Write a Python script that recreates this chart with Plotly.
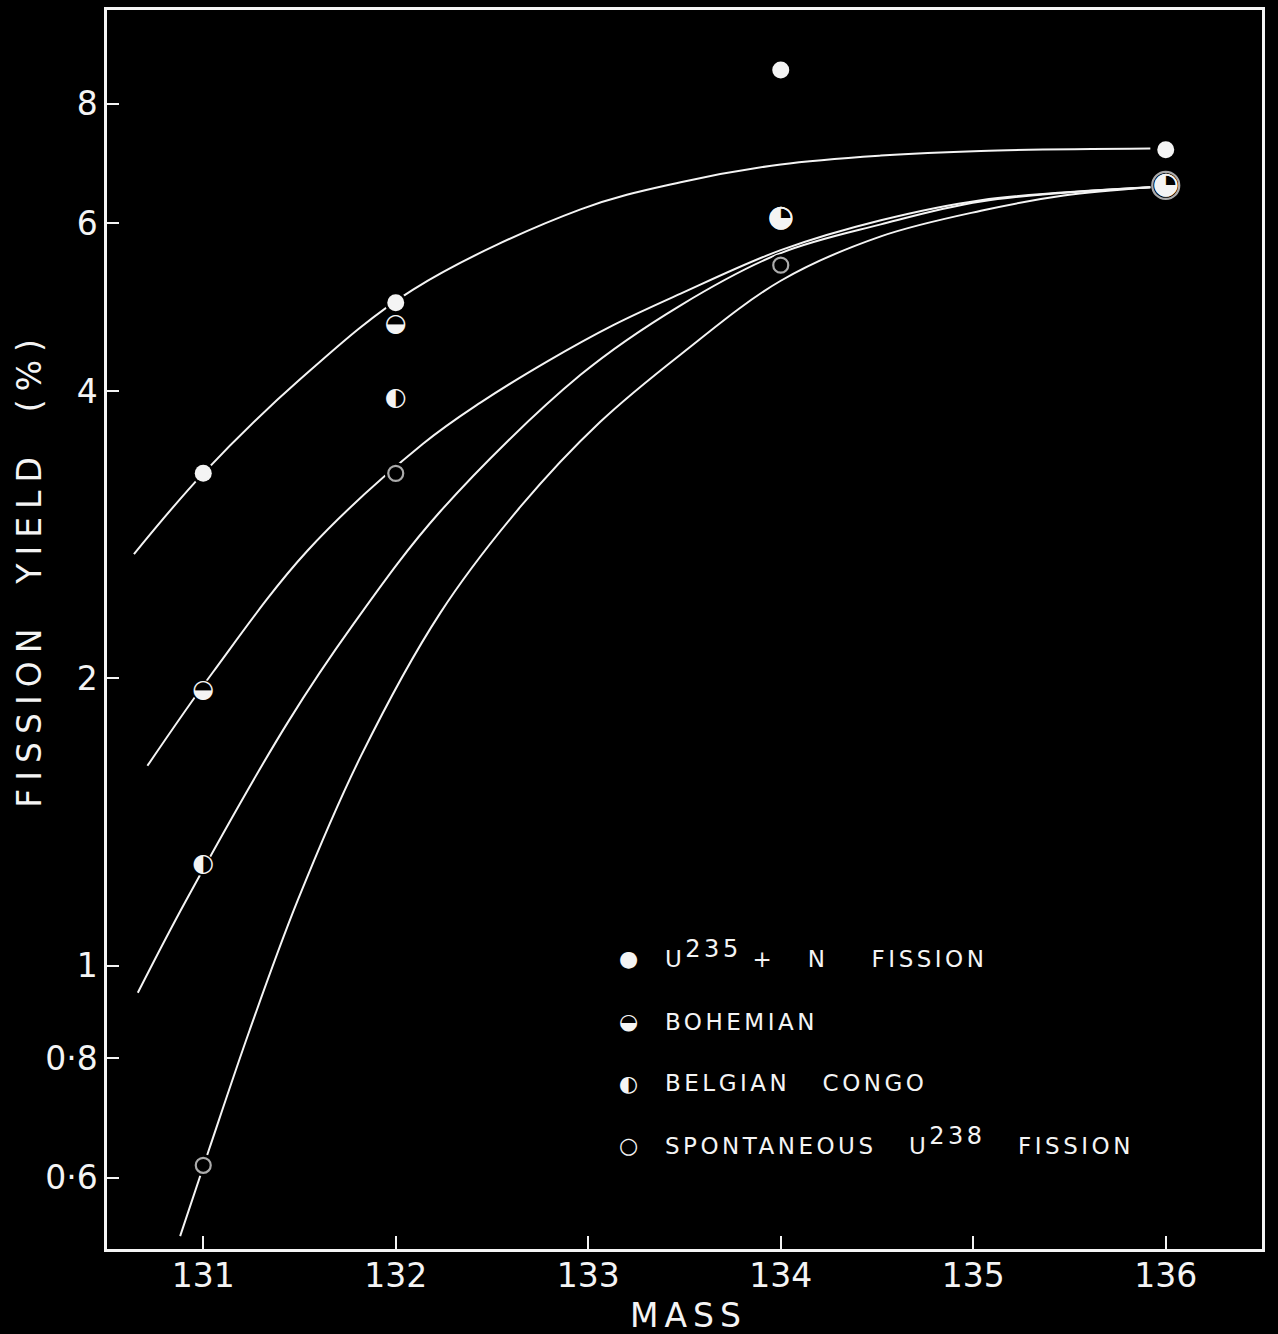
import plotly.graph_objects as go

# ---- data ----
mass = [131, 132, 134, 136]
yield_u235 = [3.28, 4.95, 8.68, 7.16]
yield_bohemian = [1.94, 4.69, 6.07, 6.57]
yield_congo = [1.275, 3.93, 6.07, 6.57]
yield_spont = [0.618, 3.28, 5.42, 6.57]

curve_u235_x = [130.64, 131.00, 131.50, 132.09, 132.96, 133.48, 134.00, 134.52, 135.04, 135.92]
curve_u235_y = [2.70, 3.28, 4.11, 5.11, 6.20, 6.62, 6.91, 7.06, 7.14, 7.18]

curve_bohemian_x = [130.71, 131.05, 131.54, 132.14, 132.44, 132.79, 133.13, 133.48, 134.00, 134.52, 135.04, 135.92]
curve_bohemian_y = [1.62, 2.03, 2.72, 3.52, 3.89, 4.30, 4.69, 5.06, 5.62, 6.04, 6.34, 6.54]

curve_congo_x = [130.66, 130.91, 131.44, 131.78, 132.23, 132.96, 133.48, 134.00, 134.52, 135.04, 135.92]
curve_congo_y = [0.937, 1.17, 1.80, 2.28, 2.99, 4.16, 4.92, 5.58, 5.98, 6.32, 6.54]

curve_spont_x = [130.88, 131.03, 131.24, 131.49, 131.82, 132.23, 132.65, 133.06, 133.48, 134.00, 134.52, 135.04, 135.47, 135.92]
curve_spont_y = [0.521, 0.642, 0.855, 1.17, 1.66, 2.34, 3.03, 3.71, 4.37, 5.22, 5.81, 6.18, 6.41, 6.54]

x_ticks = [131, 132, 133, 134, 135, 136]
y_ticks = [0.6, 0.8, 1, 2, 4, 6, 8]
y_ticktext = ["0·6", "0·8", "1", "2", "4", "6", "8"]

NB = "\u00a0"
SUP = '<sup><span style="font-size:24px">{}</span></sup>'
legend_labels = [
    "U" + SUP.format("235") + NB + "+" + NB * 3 + "N" + NB * 4 + "FISSION",
    "BOHEMIAN",
    "BELGIAN" + NB * 3 + "CONGO",
    "SPONTANEOUS" + NB * 3 + "U" + SUP.format("238") + NB * 3 + "FISSION",
]
legend_glyphs = ["●", "◒", "◐", "○"]

WHITE = "#f4f4f4"
FONT = "DejaVu Sans"

fig = go.Figure()

# smooth curves
for cx, cy in [(curve_u235_x, curve_u235_y), (curve_bohemian_x, curve_bohemian_y),
               (curve_congo_x, curve_congo_y), (curve_spont_x, curve_spont_y)]:
    fig.add_trace(go.Scatter(x=cx, y=cy, mode="lines",
                             line=dict(color=WHITE, width=2, shape="spline", smoothing=1.0),
                             hoverinfo="skip", showlegend=False))

# black masks under markers (gaps in lines)
for ys in [yield_u235, yield_bohemian, yield_congo, yield_spont]:
    fig.add_trace(go.Scatter(x=mass, y=ys, mode="markers",
                             marker=dict(symbol="circle", size=22, color="black"),
                             hoverinfo="skip", showlegend=False))

# spontaneous: open rings (larger where coinciding with other series)
others = list(zip(mass, yield_bohemian)) + list(zip(mass, yield_congo))
spont_sizes = [27 if (m, v) in others else 15 for m, v in zip(mass, yield_spont)]
fig.add_trace(go.Scatter(x=mass, y=yield_spont, mode="markers", name="Spontaneous U238 fission",
                         marker=dict(symbol="circle", size=spont_sizes, color="black",
                                     line=dict(width=2.2, color=WHITE)),
                         showlegend=False))

# half-filled circles as glyphs (bigger where the two coincide)
glyph_sizes = [30 if b == c else 25 for b, c in zip(yield_bohemian, yield_congo)]
fig.add_trace(go.Scatter(x=mass, y=yield_bohemian, mode="text", text=["◒"] * len(mass),
                         textposition="middle center", name="Bohemian",
                         textfont=dict(family=FONT, size=glyph_sizes, color=WHITE), showlegend=False))
fig.add_trace(go.Scatter(x=mass, y=yield_congo, mode="text", text=["◐"] * len(mass),
                         textposition="middle center", name="Belgian Congo",
                         textfont=dict(family=FONT, size=glyph_sizes, color=WHITE), showlegend=False))

# U235 + n filled
fig.add_trace(go.Scatter(x=mass, y=yield_u235, mode="markers", name="U235 + n fission",
                         marker=dict(symbol="circle", size=17, color=WHITE),
                         showlegend=False))

# custom legend
L, R, T, B = 107, 16, 7, 85
W, H = 1278, 1334
pw, ph = W - L - R, H - T - B
def px_to_paper(px, py):
    return (px - L) / pw, (H - B - py) / ph

legend_rows_py = [958, 1021, 1083, 1145]
for glyph, label, py in zip(legend_glyphs, legend_labels, legend_rows_py):
    gx, gy = px_to_paper(628, py)
    tx, ty = px_to_paper(663, py - (5 if "<sup>" in label else 0))
    fig.add_annotation(x=gx, y=gy, xref="paper", yref="paper", text=glyph, showarrow=False,
                       xanchor="center", yanchor="middle",
                       font=dict(family=FONT, size=22, color=WHITE))
    fig.add_annotation(x=tx, y=ty, xref="paper", yref="paper",
                       text=f'<span style="letter-spacing:3.5px">{label}</span>',
                       showarrow=False, xanchor="left", yanchor="middle",
                       font=dict(family=FONT, size=23, color=WHITE))

# axis titles
ax_, ay_ = px_to_paper(30, 568)
fig.add_annotation(x=ax_, y=ay_, xref="paper", yref="paper",
                   text='<span style="letter-spacing:8px">FISSION' + NB * 2 + 'YIELD' + NB * 2 + '(%)</span>',
                   textangle=-90, showarrow=False, xanchor="center", yanchor="middle",
                   font=dict(family=FONT, size=33, color=WHITE))
mx_, my_ = px_to_paper(688, 1316)
fig.add_annotation(x=mx_, y=my_, xref="paper", yref="paper",
                   text='<span style="letter-spacing:6px">MASS</span>',
                   showarrow=False, xanchor="center", yanchor="middle",
                   font=dict(family=FONT, size=33, color=WHITE))

fig.update_layout(
    width=W, height=H,
    margin=dict(l=L, r=R, t=T, b=B, pad=0),
    paper_bgcolor="black", plot_bgcolor="black",
    showlegend=False,
    font=dict(family=FONT, color=WHITE),
)
fig.update_xaxes(range=[130.5, 136.5], tickvals=x_ticks, ticks="inside", ticklen=13,
                 tickwidth=2, tickcolor=WHITE, showline=True, linecolor=WHITE, linewidth=2.5,
                 mirror=True, showgrid=False, zeroline=False, ticklabelstandoff=-4,
                 tickfont=dict(family=FONT, size=33, color=WHITE))
fig.update_yaxes(type="log", range=[-0.2967, 1.0013], tickvals=y_ticks, ticktext=y_ticktext,
                 ticks="inside", ticklen=12, tickwidth=2, tickcolor=WHITE, showline=True,
                 linecolor=WHITE, linewidth=2.5, mirror=True, showgrid=False, zeroline=False,
                 ticklabelstandoff=0, tickfont=dict(family=FONT, size=33, color=WHITE))

fig.write_html("out.html", config={"displayModeBar": False},
               post_script="document.body.style.margin='0';document.body.style.background='black';")
